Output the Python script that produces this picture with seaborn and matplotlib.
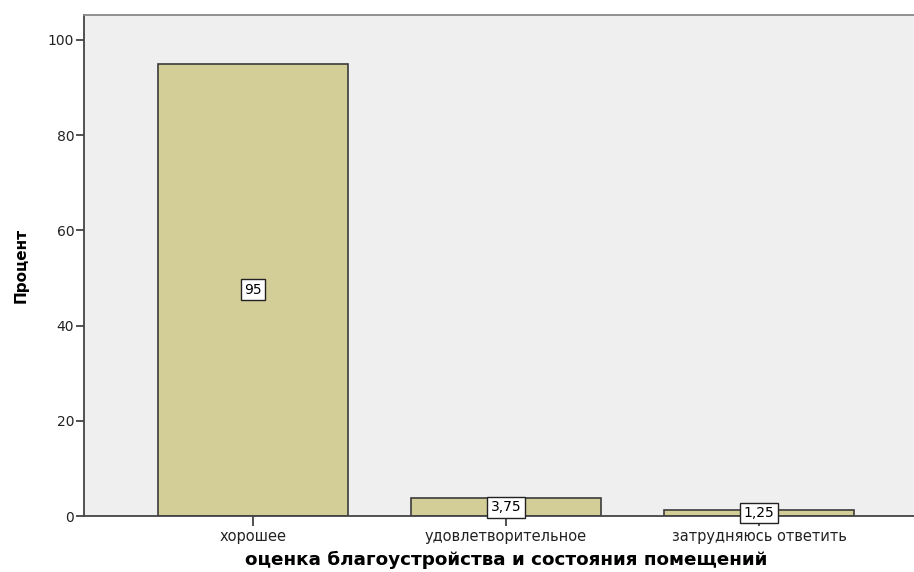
import matplotlib
matplotlib.use("Agg")
import matplotlib.pyplot as plt
import seaborn as sns
import pandas as pd

categories = ["хорошее", "удовлетворительное", "затрудняюсь ответить"]
percents = [95, 3.75, 1.25]
value_labels = ["95", "3,75", "1,25"]

df = pd.DataFrame({"cat": categories, "pct": percents})

plt.rcParams['font.family'] = ['DejaVu Sans']

fig = plt.figure(figsize=(9.14, 5.72), dpi=100)
ax = fig.add_axes([84 / 914, 1 - 516 / 572, 844 / 914, 501 / 572])
ax.set_facecolor("#efefef")

sns.barplot(data=df, x="cat", y="pct", ax=ax, color="#d3ce98", width=0.75,
            edgecolor="#3c3c3c", linewidth=1.2, saturation=1)

for i, (v, lab) in enumerate(zip(percents, value_labels)):
    ax.text(i, v / 2, lab, ha="center", va="center", fontsize=10,
            bbox=dict(boxstyle="square,pad=0.25", fc="white", ec="#222222", lw=1))

ax.set_xlim(-0.668, 2.668)
ax.set_ylim(0, 105.25)
ax.set_yticks([0, 20, 40, 60, 80, 100])
ax.tick_params(axis="y", length=6, width=1.2, color="#333333", labelsize=10, pad=1,
               labelcolor="#222222")
ax.tick_params(axis="x", length=7, width=1.2, color="#333333", labelsize=10.5, pad=2,
               labelcolor="#222222")

for s in ["left", "bottom"]:
    ax.spines[s].set_color("#444444")
    ax.spines[s].set_linewidth(1.3)
ax.spines["top"].set_color("#888888")
ax.spines["top"].set_linewidth(1.3)
ax.spines["right"].set_visible(False)

ax.set_xlabel("оценка благоустройства и состояния помещений", fontsize=13.2,
              fontweight="bold", labelpad=5)
ax.set_ylabel("Процент", fontsize=11, fontweight="bold", labelpad=14)

fig.savefig("out.png", dpi=100)
